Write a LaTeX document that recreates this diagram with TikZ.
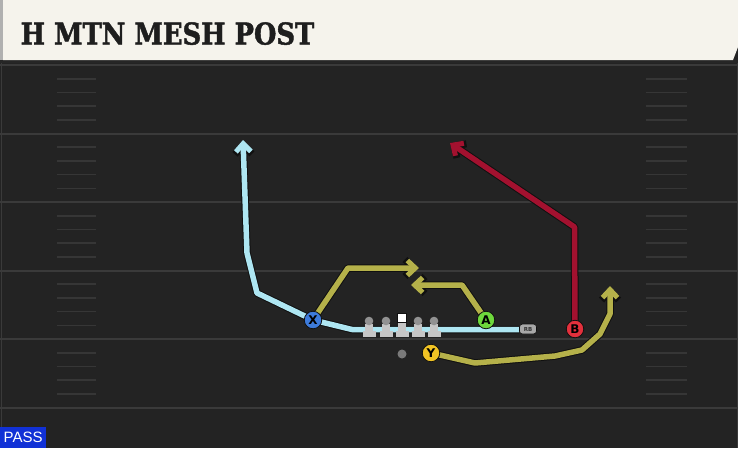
\documentclass[tikz,border=0pt]{standalone}
\usepackage{fontspec}
\usepackage{graphicx}
\usetikzlibrary{arrows.meta}
\newfontfamily\titlefont{DejaVu Serif}[BoldFeatures={FakeBold=1.6}]
\newfontfamily\lblfont{DejaVu Sans}
\newfontfamily\passfont{Liberation Sans}
\definecolor{field}{HTML}{232323}
\definecolor{yardc}{HTML}{3A3A3A}
\definecolor{hashc}{HTML}{363636}
\definecolor{cream}{HTML}{F5F3EC}
\definecolor{titlec}{HTML}{1E1E1E}
\definecolor{outl}{HTML}{101010}
\definecolor{skyc}{HTML}{AEE6F2}
\definecolor{olivec}{HTML}{B5B14A}
\definecolor{redc}{HTML}{A3112F}
\definecolor{xblue}{HTML}{3D7BDB}
\definecolor{agreen}{HTML}{6ED83C}
\definecolor{bred}{HTML}{E3303C}
\definecolor{yyellow}{HTML}{F2C424}
\definecolor{headc}{HTML}{929292}
\definecolor{bodyc}{HTML}{C6C6C6}
\definecolor{qbc}{HTML}{7A7A7A}
\definecolor{rbc}{HTML}{A8A8A8}
\definecolor{passblue}{HTML}{1131D6}
\definecolor{stripc}{HTML}{B0B0B0}
\begin{document}
\begin{tikzpicture}[x=1pt,y=-1pt,
  yard/.style={draw=yardc, line width=2pt},
  hashm/.style={draw=hashc, line width=1.6pt},
  rteout/.style={draw=outl, line width=7.5pt, line join=round,
    -{Straight Barb[length=9pt,width=17pt,line width=7pt]}},
  rtein/.style={line width=5.5pt, line join=round,
    -{Straight Barb[length=8pt,width=15pt,line width=5pt]}},
  player/.style={circle, draw=outl, line width=0.8pt, minimum size=17.5pt, inner sep=0pt,
    font=\lblfont\bfseries\fontsize{12}{12}\selectfont, text=black},
]
\useasboundingbox (0,0) rectangle (738,448);
\fill[field] (0,0) rectangle (738,448);
% frame edges
\draw[yardc, line width=1pt] (1,60) -- (1,448);
\draw[yardc, line width=1pt] (737,60) -- (737,448);
% yard lines and hashes
\foreach \k in {0,...,5} \draw[yard] (0,{65+68.5*\k}) -- (738,{65+68.5*\k});
\foreach \k in {0,...,4} \foreach \j in {1,...,4} {
  \draw[hashm] (57,{65+68.5*\k+13.7*\j}) -- (96,{65+68.5*\k+13.7*\j});
  \draw[hashm] (646,{65+68.5*\k+13.7*\j}) -- (687,{65+68.5*\k+13.7*\j});
}
% title bar
\fill[black!85] (0,59) rectangle (738,63);
\fill[cream] (3,0) -- (738,0) -- (738,47) -- (733,60) -- (3,60) -- cycle;
\fill[stripc] (0,0) rectangle (3,60);
\node[anchor=base west, inner sep=0pt, text=titlec] (title) at (20.5,44.5)
  {\scalebox{0.86}[1]{\titlefont\bfseries\fontsize{30}{30}\selectfont H MTN MESH POST}};
% player positions
\coordinate (pX) at (313,320);
\coordinate (pA) at (486,320);
\coordinate (pB) at (575,329);
\coordinate (pY) at (431,353);
\coordinate (pRB) at (528,329);
% waypoints
\coordinate (b1) at (352,329.5);
\coordinate (b2) at (257,293);
\coordinate (b3) at (247,253);
\coordinate (b4) at (243,140);
\coordinate (x1) at (348,268);
\coordinate (x2) at (419,268);
\coordinate (a1) at (462,285);
\coordinate (a2) at (411,285);
\coordinate (r1) at (574.5,227);
\coordinate (r2) at (450,143);
\coordinate (y1) at (475,363);
\coordinate (y2) at (555,356);
\coordinate (y3) at (582,350);
\coordinate (y4) at (600,334);
\coordinate (y5) at (610,314);
\coordinate (y6) at (610,286);
% routes: outline pass
\draw[rteout] (519,329.5) -- (b1) -- (pX) -- (b2) -- (b3) -- (b4);
\draw[rteout] (pX) -- (x1) -- (x2);
\draw[rteout] (pA) -- (a1) -- (a2);
\draw[rteout] (pB) -- (r1) -- (r2);
\draw[rteout] (pY) -- (y1) -- (y2) -- (y3) -- (y4) -- (y5) -- (y6);
% routes: colour pass
\draw[rtein, skyc] (519,329.5) -- (b1) -- (pX) -- (b2) -- (b3) -- (b4);
\draw[rtein, olivec] (pX) -- (x1) -- (x2);
\draw[rtein, olivec] (pA) -- (a1) -- (a2);
\draw[rtein, redc] (pB) -- (r1) -- (r2);
\draw[rtein, olivec] (pY) -- (y1) -- (y2) -- (y3) -- (y4) -- (y5) -- (y6);
% linemen
\foreach \lx in {369,386,418,434} {
  \fill[bodyc] (\lx-4,323.5) rectangle (\lx+4,332);
  \fill[bodyc] (\lx-6.5,331) rectangle (\lx+6.5,336.5);
  \fill[headc] (\lx,321) circle (4.3);
}
\fill[bodyc] (398,320) rectangle (406,332);
\fill[bodyc] (395.5,331) rectangle (408.5,336.5);
\fill[white, draw=outl, line width=0.6pt] (397.5,313.5) rectangle (406.5,322.5);
% QB
\fill[qbc] (402,354) circle (4.5);
% RB
\node[draw=outl, fill=rbc, line width=0.6pt, rounded corners=3pt, minimum width=17pt, minimum height=10pt,
  inner sep=0pt, font=\lblfont\bfseries\fontsize{5.5}{5.5}\selectfont, text=black!80] (RB) at (pRB) {RB};
% players
\node[player, fill=xblue] (X) at (pX) {X};
\node[player, fill=agreen] (A) at (pA) {A};
\node[player, fill=bred] (B) at (pB) {B};
\node[player, fill=yyellow] (Y) at (pY) {Y};
% pass label
\node[fill=passblue, anchor=south west, minimum width=46pt, minimum height=21pt, inner sep=0pt,
  text=white, font=\passfont\fontsize{15}{15}\selectfont] (pass) at (0,448) {PASS};
\end{tikzpicture}
\end{document}
